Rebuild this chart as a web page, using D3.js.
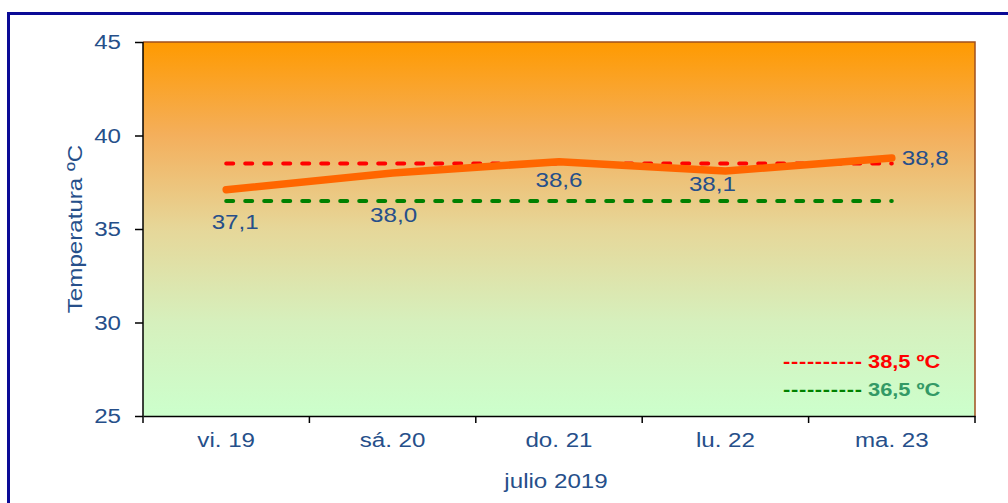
<!DOCTYPE html>
<html><head><meta charset="utf-8">
<script src="https://cdn.jsdelivr.net/npm/d3@7"></script>
<style>body{margin:0;background:#fff}svg{display:block;font-family:"Liberation Sans",Arial,sans-serif}</style>
</head><body>
<svg id="c" width="1008" height="503"></svg>
<script>
const categories = ["vi. 19","sá. 20","do. 21","lu. 22","ma. 23"];
const temps = [37.1, 38.0, 38.6, 38.1, 38.8];
const tempLabels = ["37,1","38,0","38,6","38,1","38,8"];
const thresholdHigh = 38.5;
const thresholdLow = 36.5;
const yTicks = [25,30,35,40,45];
const legendLabels = ["38,5 ºC","36,5 ºC"];

const SX = 1.15, FS = 21;
const svg = d3.select("#c");
const L=143,R=975,T=42,B=416;
const x = d3.scaleBand().domain(categories).range([L,R]);
const y = d3.scaleLinear().domain([25,45]).range([B,T]);
const textCol = "#264F8A";
function stretch(sel){
  sel.each(function(){
    const el=d3.select(this);
    const ax=+el.attr("x")||0;
    const prev=el.attr("transform")||"";
    el.attr("transform",`${prev} translate(${ax},0) scale(${SX},1) translate(${-ax},0)`);
  });
}

// outer border
svg.append("path").attr("d","M8.5,510 V13.5 H1010").attr("fill","none").attr("stroke","#0A0A96").attr("stroke-width",3);

const defs = svg.append("defs");
const g = defs.append("linearGradient").attr("id","bg").attr("x1",0).attr("y1",0).attr("x2",0).attr("y2",1);
[[0,"#FF9A00"],[0.25,"#F4AF5C"],[0.5,"#E6D799"],[0.75,"#D6F0BD"],[1,"#CCFFCC"]].forEach(s=>g.append("stop").attr("offset",s[0]).attr("stop-color",s[1]));

svg.append("rect").attr("x",L).attr("y",T).attr("width",R-L).attr("height",B-T).attr("fill","url(#bg)");
svg.append("path").attr("d",`M${L},${T} H${R} V${B}`).attr("fill","none").attr("stroke","#A0501E").attr("stroke-width",1.5);

// axes
const ya = svg.append("g").attr("transform",`translate(${L},0)`).call(d3.axisLeft(y).tickValues(yTicks).tickSize(8).tickPadding(14));
const xa = svg.append("g").attr("transform",`translate(0,${B})`).call(d3.axisBottom(x).tickSize(0).tickPadding(16));
[ya,xa].forEach(a=>{a.selectAll("path").attr("stroke","#000").attr("stroke-width",1.5);a.selectAll("line").attr("stroke","#000").attr("stroke-width",1.5);a.selectAll("text").attr("fill",textCol).attr("font-size",FS).attr("font-family","Liberation Sans, Arial, sans-serif");});
ya.select(".domain").attr("d",`M0,${T}V${B}`);
stretch(ya.selectAll("text")); stretch(xa.selectAll("text"));
// x ticks at band edges
const edges = categories.map(c=>x(c)).concat([R]);
svg.append("g").selectAll("line").data(edges).join("line")
  .attr("x1",d=>d).attr("x2",d=>d).attr("y1",B).attr("y2",B+7).attr("stroke","#000").attr("stroke-width",1.5);

const cx = c=>x(c)+x.bandwidth()/2;
const x0 = cx(categories[0]), x1 = cx(categories[categories.length-1]);
// threshold lines
[[thresholdHigh,"#FF0000"],[thresholdLow,"#008000"]].forEach(([v,c])=>{
  svg.append("line").attr("x1",x0).attr("x2",x1).attr("y1",y(v)).attr("y2",y(v))
    .attr("stroke",c).attr("stroke-width",4).attr("stroke-linecap","round").attr("stroke-dasharray","7,12");
});
// main line
svg.append("path").datum(temps.map((t,i)=>[cx(categories[i]),y(t)]))
  .attr("d",d3.line()).attr("fill","none").attr("stroke","#FF6600").attr("stroke-width",7.5).attr("stroke-linecap","round").attr("stroke-linejoin","round");

// data labels
const offs = [[9,39,"middle"],[1,49,"middle"],[0,25,"middle"],[-13,20,"middle"],[10,7,"start"]];
const dl = svg.append("g").selectAll("text").data(temps).join("text")
  .attr("x",(d,i)=>cx(categories[i])+offs[i][0]).attr("y",(d,i)=>y(d)+offs[i][1])
  .attr("text-anchor",(d,i)=>offs[i][2]).attr("fill",textCol).attr("font-size",FS).text((d,i)=>tempLabels[i]);
stretch(dl);

// axis titles
svg.append("text").attr("transform",`translate(82,${(T+B)/2}) rotate(-90) scale(${SX},1)`).attr("text-anchor","middle")
  .attr("fill",textCol).attr("font-size",FS).text("Temperatura ºC");
stretch(svg.append("text").attr("x",556).attr("y",488).attr("text-anchor","middle").attr("fill",textCol).attr("font-size",FS).text("julio 2019"));

// legend
[[legendLabels[0],"#FF0000","#FF0000",368],[legendLabels[1],"#008000","#339966",396]].forEach(([t,dc,tc,yy])=>{
  stretch(svg.append("text").attr("x",783).attr("y",yy).attr("font-size",19).attr("font-weight","bold").attr("fill",dc).attr("letter-spacing",0.6).text("----------"));
  stretch(svg.append("text").attr("x",868).attr("y",yy).attr("font-size",19).attr("font-weight","bold").attr("fill",tc).text(t));
});
</script>
</body></html>
